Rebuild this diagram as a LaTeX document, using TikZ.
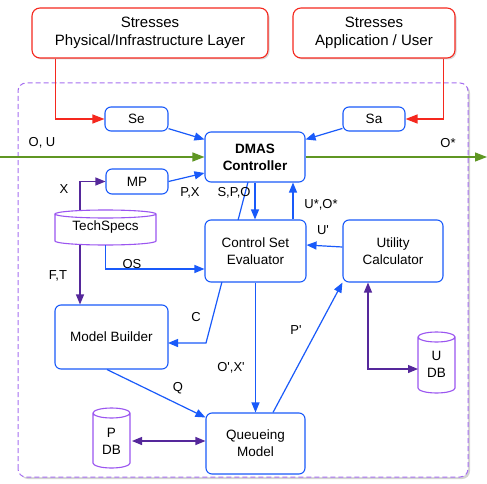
\documentclass[tikz,border=0pt]{standalone}
\usepackage{fontspec}
\setmainfont{Liberation Sans}
\usetikzlibrary{arrows.meta,shadows,calc}
\definecolor{bl}{RGB}{25,90,250}
\definecolor{rd}{RGB}{245,40,30}
\definecolor{pl}{RGB}{85,40,155}
\definecolor{cp}{RGB}{155,85,240}
\definecolor{dp}{RGB}{165,110,240}
\definecolor{gr}{RGB}{95,150,35}
\newcommand{\mycyl}[5]{%
  \filldraw[cyl] (#1,#3-#5) -- (#1,#4+#5)
    arc[start angle=180,end angle=360,x radius={(#2-#1)/2},y radius=#5]
    -- (#2,#3-#5)
    arc[start angle=0,end angle=180,x radius={(#2-#1)/2},y radius=#5]
    arc[start angle=180,end angle=360,x radius={(#2-#1)/2},y radius=#5];}
\begin{document}
\begin{tikzpicture}[x=1pt,y=1pt,
  font=\fontsize{13.5}{17}\selectfont,
  box/.style={draw=bl, line width=1.1pt, rounded corners=6pt, fill=white, align=center, inner sep=0pt},
  rbox/.style={draw=rd, line width=1.1pt, rounded corners=8pt, fill=white, align=center, inner sep=0pt,
     font=\fontsize{15}{18}\selectfont, drop shadow={shadow xshift=1.5pt, shadow yshift=-1.5pt, opacity=0.3}},
  bar/.style={draw=bl, line width=1.2pt, -{Triangle[length=10pt,width=8pt]}},
  rar/.style={draw=rd, line width=1.2pt, -{Triangle[length=12pt,width=9pt]}},
  par/.style={draw=pl, line width=1.2pt, -{Triangle[length=10pt,width=8pt]}},
  gar/.style={draw=gr, line width=1.2pt, -{Triangle[length=12pt,width=9pt]}},
  lbl/.style={font=\fontsize{13}{15}\selectfont, inner sep=0pt},
  cyl/.style={draw=cp, line width=1.1pt, fill=white},
  dbtext/.style={inner sep=0pt, align=center, font=\fontsize{13.5}{17}\selectfont},
]
\useasboundingbox (0,0) rectangle (487,483);
% container
\fill[white, rounded corners=8pt, drop shadow={shadow xshift=2pt, shadow yshift=-2pt, opacity=0.35}] (18,6) rectangle (468,400);
\draw[dp, line width=1pt, dash pattern=on 5pt off 3pt, rounded corners=8pt] (18,6) rectangle (468,400);

% top boxes
\node[rbox, minimum width=236, minimum height=50] (s1) at (150,450) {Stresses\\Physical/Infrastructure Layer};
\node[rbox, minimum width=162, minimum height=50] (s2) at (374,450) {Stresses\\Application / User};

% hidden line behind CSE
\coordinate (cb) at (206,140);
\coordinate (spo) at (248,301);
\draw[bar] (spo) -- (cb) -- (cb -| 168,0);

% nodes
\node[box, minimum width=63, minimum height=24] (se) at (136.5,364) {Se};
\node[box, minimum width=62, minimum height=24] (sa) at (374,364) {Sa};
\node[box, minimum width=100, minimum height=50, font=\bfseries\fontsize{13.5}{17}\selectfont] (dmas) at (255,326) {DMAS\\Controller};
\node[box, minimum width=62, minimum height=25] (mp) at (137,301.5) {MP};
\node[box, minimum width=101, minimum height=62] (cse) at (255.5,232) {Control Set\\Evaluator};
\node[box, minimum width=100, minimum height=62] (uc) at (393,232) {Utility\\Calculator};
\node[box, minimum width=113, minimum height=64] (mb) at (111.5,146) {Model Builder};
\node[box, minimum width=99, minimum height=61] (qm) at (255.5,39.5) {Queueing\\Model};

\mycyl{55}{156}{273}{238}{4}
\node[dbtext, minimum width=101, minimum height=35] (ts) at (105.5,255.5) {TechSpecs};
\mycyl{418}{455}{151}{90}{5}
\node[dbtext, minimum width=37, minimum height=61] (udb) at (436.5,119) {U\\DB};
\mycyl{93}{130}{75}{15}{5}
\node[dbtext, minimum width=37, minimum height=60] (pdb) at (111.5,42) {P\\DB};

% connectors
\draw[rar] ([xshift=24pt]s1.south west) |- (se.west);
\draw[rar] ([xshift=-12pt]s2.south east) |- (sa.east);
\draw[bar] (se) -- ([yshift=-8pt]dmas.north west);
\draw[bar] (sa) -- ([yshift=-8pt]dmas.north east);
\coordinate (gin) at (0,326);
\coordinate (gout) at (487,326);
\draw[gar] (gin) -- (dmas.west);
\draw[gar] (dmas.east) -- (gout);
\draw[bar] (mp.east) -- ([yshift=-16pt]dmas.west);
\draw[par] ([xshift=-25.5pt]ts.north) |- (mp.west);
\draw[bar] (ts.south) |- ([yshift=-18pt]cse.west);
\draw[par] ([xshift=-25.5pt]ts.south) -- ([xshift=-25.5pt]ts.south |- mb.north);
\draw[bar] (dmas.south) -- (dmas.south |- cse.north);
\draw[bar] ([xshift=37.5pt]cse.north) -- ([xshift=37.5pt]cse.north |- dmas.south);
\draw[bar] (cse.south) -- (cse.south |- qm.north);
\draw[bar] ([xshift=17.5pt]qm.north) -- (uc.south west);
\draw[bar] ([yshift=4pt]uc.west) -- ([yshift=6pt]cse.east);
\coordinate (ud) at (418,114);
\draw[par, {Triangle[length=10pt,width=8pt]}-{Triangle[length=10pt,width=8pt]}] ([xshift=-25pt]uc.south) |- (ud);
\draw[bar] ([xshift=-4.5pt]mb.south) -- ([yshift=-5pt]qm.north west);
\coordinate (pd) at (132,42);
\draw[par, {Triangle[length=10pt,width=8pt]}-{Triangle[length=10pt,width=8pt]}] (pd) -- (qm.west |- pd);

% labels
\node[lbl] (l1) at (42,340) {O, U};
\node[lbl] (l2) at (448,340) {O*};
\node[lbl] (l3) at (64,294) {X};
\node[lbl] (l4) at (190,290) {P,X};
\node[lbl] (l5) at (234,290) {S,P,O};
\node[lbl] (l6) at (321,278) {U*,O*};
\node[lbl] (l7) at (323,253) {U\textquotesingle};
\node[lbl] (l8) at (132,219) {OS};
\node[lbl] (l9) at (58,207) {F,T};
\node[lbl] (l10) at (196,166) {C};
\node[lbl] (l11) at (178,95) {Q};
\node[lbl] (l12) at (231,115) {O\textquotesingle,X\textquotesingle};
\node[lbl] (l13) at (296,153) {P\textquotesingle};
\end{tikzpicture}
\end{document}
